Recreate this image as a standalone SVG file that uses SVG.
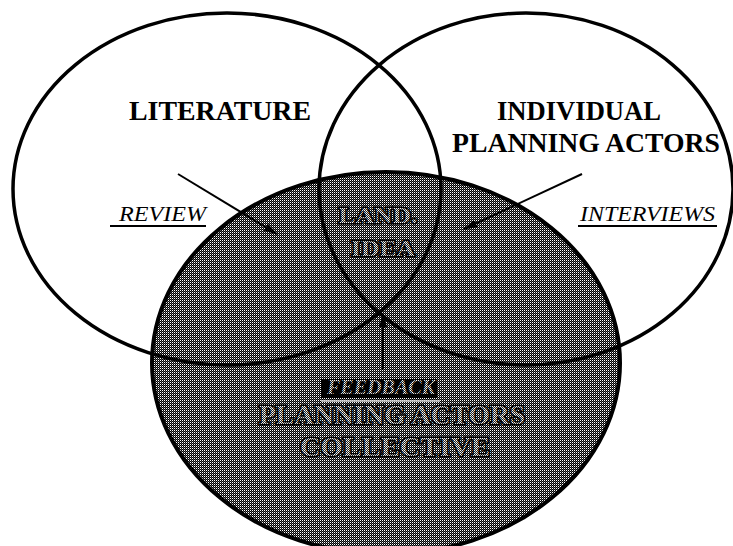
<svg xmlns="http://www.w3.org/2000/svg" width="733" height="546" viewBox="0 0 733 546">
<style>
.ring{fill:none;stroke:#000;stroke-width:3.5}
.lbl{font-family:"Liberation Serif","Times New Roman",serif;font-weight:bold;font-size:27px;fill:#000;text-anchor:middle}
.ital{font-family:"Liberation Serif","Times New Roman",serif;font-style:italic;font-size:20px;fill:#000}
.gtxt{font-family:"Liberation Serif","Times New Roman",serif;font-weight:bold;fill:url(#dotsL);stroke:#000;stroke-width:3;paint-order:stroke;text-anchor:middle}
.ul{stroke:#000;stroke-width:2}
.arr{stroke:#000;stroke-width:2;fill:none;marker-end:url(#ah)}
</style>
<defs>
<pattern id="dots" patternUnits="userSpaceOnUse" x="0" y="0" width="2" height="2">
<rect width="2" height="2" fill="#000"/>
<rect width="1" height="1" fill="#fff"/>
<rect x="1" y="1" width="1" height="1" fill="#555"/>
</pattern>
<pattern id="dotsL" patternUnits="userSpaceOnUse" x="0" y="0" width="2" height="2">
<rect width="2" height="2" fill="#222"/>
<rect width="1" height="1" fill="#fff"/>
<rect x="1" y="1" width="1" height="1" fill="#ccc"/>
</pattern>
<marker id="ah" viewBox="0 0 14 8" refX="13" refY="4" markerWidth="14" markerHeight="8" markerUnits="userSpaceOnUse" orient="auto">
<path d="M0,0 L14,4 L0,8 Z" fill="#000"/>
</marker>
</defs>
<rect width="733" height="546" fill="#fff"/>
<g id="collective">
<ellipse cx="386" cy="363" rx="234" ry="191" fill="url(#dots)"/>
</g>
<g id="literature">
<ellipse class="ring" cx="227" cy="189" rx="214" ry="176"/>
<text class="lbl" x="220" y="120" textLength="182" lengthAdjust="spacingAndGlyphs">LITERATURE</text>
</g>
<g id="individual">
<ellipse class="ring" cx="526" cy="189" rx="207" ry="176"/>
<text class="lbl" x="579" y="120" textLength="164" lengthAdjust="spacingAndGlyphs">INDIVIDUAL</text>
<text class="lbl" x="586" y="152" textLength="268" lengthAdjust="spacingAndGlyphs">PLANNING ACTORS</text>
</g>
<g id="collective-outline">
<ellipse cx="386" cy="363" rx="234" ry="191" fill="none" stroke="#000" stroke-width="4"/>
<text class="gtxt" x="392" y="424" font-size="27" textLength="266" lengthAdjust="spacingAndGlyphs">PLANNING ACTORS</text>
<text class="gtxt" x="395" y="456" font-size="27" textLength="190" lengthAdjust="spacingAndGlyphs">COLLECTIVE</text>
</g>
<g id="land-idea">
<text class="gtxt" x="378" y="223" font-size="24" textLength="79" lengthAdjust="spacingAndGlyphs">LAND.</text>
<text class="gtxt" x="383" y="256" font-size="24" textLength="64" lengthAdjust="spacingAndGlyphs">IDEA</text>
</g>
<g id="connectors">
<line class="arr" x1="178" y1="174" x2="277" y2="234"/>
<line class="arr" x1="582" y1="174" x2="464" y2="229"/>
<line class="arr" x1="383" y1="369" x2="383" y2="314"/>
</g>
<g id="edge-labels">
<text class="ital" x="119" y="221" textLength="87" lengthAdjust="spacingAndGlyphs">REVIEW</text>
<line class="ul" x1="110" y1="226" x2="206" y2="226"/>
<text class="ital" x="580" y="221" textLength="135" lengthAdjust="spacingAndGlyphs">INTERVIEWS</text>
<line class="ul" x1="578" y1="226" x2="717" y2="226"/>
<rect x="321" y="379" width="116" height="19" fill="#000"/>
<text class="ital" x="327" y="394" textLength="108" lengthAdjust="spacingAndGlyphs" style="fill:url(#dotsL);font-weight:bold">FEEDBACK</text>
<line x1="321" y1="401" x2="440" y2="401" stroke="#ddd" stroke-width="1.5"/>
</g>
</svg>
